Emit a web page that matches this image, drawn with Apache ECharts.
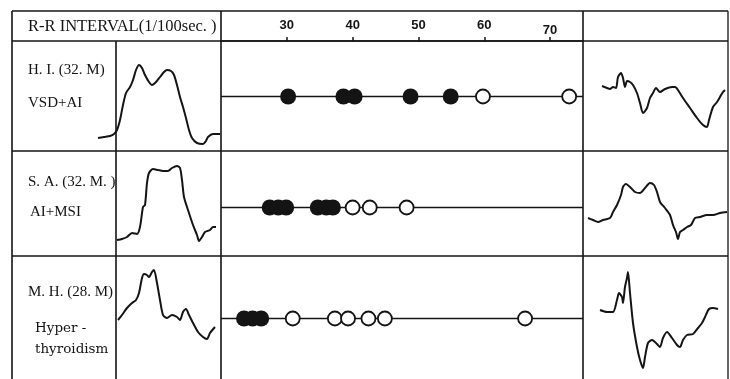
<!DOCTYPE html>
<html>
<head>
<meta charset="utf-8">
<script src="https://cdn.jsdelivr.net/npm/echarts@6/dist/echarts.min.js"></script>
<style>
  html, body { margin: 0; padding: 0; background: #fff; }
  #chart { width: 730px; height: 379px; }
</style>
</head>
<body>
<div id="chart"></div>
<script>
// Patients (one row each) and the text in the label column
const patients = ['H. I.', 'S. A.', 'M. H.'];
const rowLabels = [
  ['H. I. (32. M)', 'VSD+AI'],
  ['S. A. (32. M. )', 'AI+MSI'],
  ['M. H. (28. M)', 'Hyper -', 'thyroidism']
];

// R-R interval axis (1/100 sec)
const axisMin = 20;
const axisMax = 75;
const tickValues = [30, 40, 50, 60, 70];

// R-R intervals of beats with a filled marker / open marker, per patient
const filledIntervals = [
  [30.2, 38.6, 40.3, 48.8, 54.9],
  [27.4, 28.7, 29.9, 34.7, 36.0, 37.0],
  [23.5, 24.8, 26.1]
];
const openIntervals = [
  [59.8, 72.9],
  [40.0, 42.6, 48.2],
  [30.9, 37.3, 39.3, 42.4, 44.9, 66.2]
];

// Pulse tracings as [time, amplitude] samples, one per patient
const leftTraces = [
  [[2,12],[8,13],[14,14],[18,16],[21,20],[24,30],[27,45],[30,57],[34,63],[37,70],[40,80],[43,85],[46,82],[49,75],[53,68],[56,65],[60,68],[64,73],[68,78],[71,80],[75,79],[78,75],[81,65],[84,53],[87,43],[90,32],[93,20],[96,12],[101,7],[107,6],[110,9],[112,13],[117,16],[124,16]],
  [[21,10],[26,11],[31,13],[36,17],[41,16],[44,23],[47,43],[49,45],[51,67],[53,77],[57,81],[62,80],[67,79],[72,79],[76,82],[81,84],[84,82],[86,70],[88,53],[92,40],[97,25],[101,15],[103,9],[106,13],[109,18],[114,20],[117,23],[120,23]],
  [[22,30],[26,35],[31,42],[36,47],[40,50],[43,57],[46,72],[48,76],[51,75],[53,73],[56,78],[58,80],[61,67],[64,50],[67,35],[71,32],[76,35],[81,33],[84,30],[87,38],[90,41],[93,35],[97,27],[102,18],[107,13],[111,11],[114,17],[119,23]]
];
const rightTraces = [
  [[19,64],[24,62],[27,61],[30,63],[33,62],[35,73],[38,77],[40,72],[42,63],[44,69],[47,68],[50,65],[54,57],[57,47],[60,37],[64,42],[67,52],[70,57],[73,62],[77,58],[82,61],[89,63],[92,63],[95,60],[100,52],[107,42],[114,32],[120,25],[124,23],[126,30],[130,43],[134,48],[137,53],[140,58],[142,60]],
  [[5,32],[10,30],[15,28],[20,30],[27,32],[30,38],[34,45],[38,55],[40,63],[43,66],[47,63],[52,58],[57,57],[62,62],[67,67],[71,65],[74,58],[77,48],[82,42],[87,35],[90,25],[93,18],[95,11],[97,18],[100,20],[104,23],[108,25],[112,32],[117,33],[124,35],[130,35],[137,37],[144,38]],
  [[17,65],[24,63],[30,63],[34,75],[36,82],[39,78],[40,72],[42,88],[44,97],[45,103],[47,82],[50,52],[54,28],[57,15],[60,7],[62,18],[65,32],[69,35],[74,31],[77,28],[80,37],[84,43],[89,37],[94,30],[97,28],[100,35],[104,40],[110,41],[115,47],[119,52],[122,58],[126,66],[130,67],[135,66]]
];

const ink = '#141414';

// Layout of the table: columns and row bands (pixels)
const leftTraceBoxes = [
  { left: 96, top: 55, width: 128, height: 95 },
  { left: 96, top: 160, width: 128, height: 90 },
  { left: 96, top: 260, width: 128, height: 90 }
];
const rightTraceBoxes = [
  { left: 583, top: 55, width: 144, height: 95 },
  { left: 583, top: 160, width: 144, height: 90 },
  { left: 583, top: 265, width: 144, height: 110 }
];

const grids = [{ left: 221, top: 41, width: 362, height: 333 }];
const xAxes = [{
  type: 'value', gridIndex: 0, position: 'top',
  min: axisMin, max: axisMax,
  axisLine: { show: true, lineStyle: { color: ink, width: 1.5 } },
  axisTick: { show: true, inside: false, length: 4, customValues: tickValues, lineStyle: { color: ink, width: 1.5 } },
  axisLabel: {
    show: true, customValues: tickValues, margin: 9,
    color: ink, fontFamily: 'Liberation Sans', fontSize: 13, fontWeight: 'bold',
    formatter: v => (v === 70 ? '{low|70}' : String(v)),
    rich: { low: { color: ink, fontFamily: 'Liberation Sans', fontSize: 13, fontWeight: 'bold', padding: [0, 0, -5, 0] } }
  },
  splitLine: { show: false }
}];
const yAxes = [{
  type: 'category', gridIndex: 0, data: patients, inverse: true,
  axisLine: { show: false }, axisTick: { show: false }, axisLabel: { show: false }, splitLine: { show: false }
}];

const series = [];
patients.forEach((p, i) => {
  series.push({
    type: 'line', xAxisIndex: 0, yAxisIndex: 0, silent: true,
    data: [[axisMin, p], [axisMax, p]], showSymbol: false,
    lineStyle: { color: ink, width: 1.5 }, z: 2
  });
});
series.push({
  type: 'scatter', xAxisIndex: 0, yAxisIndex: 0, symbol: 'circle', symbolSize: 16,
  data: filledIntervals.flatMap((row, i) => row.map(v => [v, patients[i]])),
  itemStyle: { color: ink, opacity: 1 }, z: 3
});
series.push({
  type: 'scatter', xAxisIndex: 0, yAxisIndex: 0, symbol: 'circle', symbolSize: 14,
  data: openIntervals.flatMap((row, i) => row.map(v => [v, patients[i]])),
  itemStyle: { color: '#fff', borderColor: ink, borderWidth: 1.8, opacity: 1 }, z: 4
});

// One hidden-axis grid per pulse tracing
function addTrace(box, trace) {
  const g = grids.length;
  grids.push(box);
  xAxes.push({ type: 'value', gridIndex: g, min: 0, max: box.width, show: false });
  yAxes.push({ type: 'value', gridIndex: g, min: 0, max: box.height, show: false });
  series.push({
    type: 'line', xAxisIndex: g, yAxisIndex: g, data: trace, showSymbol: false, smooth: 0.25,
    lineStyle: { color: ink, width: 2 }, z: 5, silent: true
  });
}
leftTraces.forEach((t, i) => addTrace(leftTraceBoxes[i], t));
rightTraces.forEach((t, i) => addTrace(rightTraceBoxes[i], t));

// Table rules
function rule(x1, y1, x2, y2, w) {
  return { type: 'line', silent: true, z: 1,
    shape: { x1, y1, x2, y2 }, style: { stroke: ink, lineWidth: w || 1.6 } };
}
const graphics = [
  rule(12, 11, 728, 11),
  rule(12, 11, 12, 379),
  rule(728, 11, 728, 379, 1.3),
  rule(12, 41, 728, 41),
  rule(221, 11, 221, 379),
  rule(583, 11, 583, 379),
  rule(116, 41, 116, 379),
  rule(12, 151, 728, 151),
  rule(12, 256, 728, 256)
];
function label(text, x, y, font) {
  return { type: 'text', x, y, silent: true, z: 6,
    style: { text, fill: ink, font, align: 'left', verticalAlign: 'middle' } };
}
const serif = '"Liberation Serif", serif';
graphics.push(label('R-R INTERVAL(1/100sec. )', 28, 27, '16.5px ' + serif));
const labelRows = [[70, 103], [182, 212], [292, 328, 349]];
rowLabels.forEach((lines, i) => {
  lines.forEach((t, j) => {
    const x = (i === 2 && j > 0) ? 35 : (i === 1 && j === 1 ? 30 : 28);
    const font = (i === 2 && j > 0) ? '13.5px "DejaVu Serif", serif' : '15px ' + serif;
    graphics.push(label(t, x, labelRows[i][j], font));
  });
});

const chart = echarts.init(document.getElementById('chart'), null, { renderer: 'canvas' });
chart.setOption({
  animation: false,
  backgroundColor: '#fff',
  grid: grids,
  xAxis: xAxes,
  yAxis: yAxes,
  series,
  graphic: graphics
});
</script>
</body>
</html>
